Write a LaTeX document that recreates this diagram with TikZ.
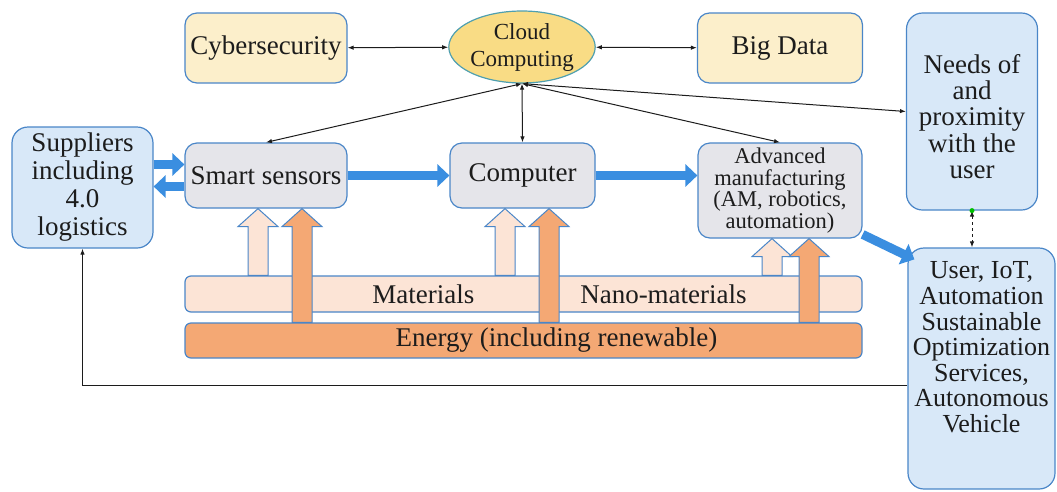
\documentclass[tikz,border=0pt]{standalone}
\usepackage{fontspec}
\setmainfont{Liberation Serif}
\usepackage{xcolor}
\usetikzlibrary{arrows.meta,positioning,shapes.geometric,calc}
\definecolor{boxline}{HTML}{4A86C8}
\definecolor{grayfill}{HTML}{E5E5EA}
\definecolor{creamfill}{HTML}{FCEFCB}
\definecolor{cloudfill}{HTML}{F9DC85}
\definecolor{cloudline}{HTML}{4E9FB0}
\definecolor{skyfill}{HTML}{D8E8F8}
\definecolor{peachfill}{HTML}{FCE4D6}
\definecolor{orangefill}{HTML}{F4A874}
\definecolor{flowblue}{HTML}{3A8EE0}
\definecolor{inkdark}{HTML}{1C1C1C}

% hollow upward block arrow: style, x, from anchor, to anchor
\newcommand{\liftarrow}[4]{%
  \draw[#1] (#3 -| #2-10,0) -- ($(#4 -| #2-10,0)+(0,18)$) -- ($(#4 -| #2-20,0)+(0,18)$)
    -- (#4 -| #2,0) -- ($(#4 -| #2+20,0)+(0,18)$) -- ($(#4 -| #2+10,0)+(0,18)$)
    -- (#3 -| #2+10,0) -- cycle;}

\begin{document}
\begin{tikzpicture}[
    x=1pt, y=-1pt,
    box/.style={rectangle, draw=boxline, line width=1.2pt, fill=grayfill, rounded corners=12pt, text=inkdark, align=center, inner sep=2pt, font=\fontsize{27}{26}\selectfont},
    softbox/.style={box, fill=creamfill},
    skybox/.style={box, fill=skyfill, rounded corners=16pt},
    cloudnode/.style={ellipse, draw=cloudline, line width=1.2pt, fill=cloudfill, text=inkdark, align=center, inner sep=0pt, font=\fontsize{23}{27}\selectfont},
    bar/.style={rectangle, draw=boxline, line width=1.2pt, rounded corners=6pt, text=inkdark, inner sep=0pt, font=\fontsize{27}{26}\selectfont},
    link/.style={{Latex[length=6pt,width=4.5pt]}-{Latex[length=6pt,width=4.5pt]}, line width=1pt, draw=inkdark},
    flow/.style={-{Triangle[length=12pt,width=22pt]}, line width=9pt, draw=flowblue},
    lightup/.style={fill=peachfill, draw=boxline, line width=1pt},
    orangeup/.style={fill=orangefill, draw=boxline, line width=1pt}
]
\useasboundingbox (0,0) rectangle (1057,491);

% Top row: data layer
\node[softbox, minimum width=162pt, minimum height=70pt] (cyber) at (266,48) {Cybersecurity};
\node[cloudnode, minimum width=135pt, minimum height=72pt] (cloud) at (522,47) {Cloud\\Computing};
\node[softbox, minimum width=165pt, minimum height=70pt] (bigdata) at (780,48) {Big Data};
\node[skybox, minimum width=131pt, minimum height=197pt] (needs) at (972,111.5) {%
  \begin{tabular}{@{}c@{}}\rule{0pt}{36pt}Needs of\\and\\proximity\\with the\\user\end{tabular}};

% Middle row: production chain
\node[skybox, minimum width=141pt, minimum height=121pt, font=\fontsize{27}{28}\selectfont] (sup) at (82.5,187.5) {Suppliers\\including\\4.0\\logistics};
\node[box, minimum width=162pt, minimum height=65pt] (sens) at (266,175.5) {Smart sensors};
\node[box, minimum width=145pt, minimum height=65pt] (comp) at (522.5,175.5) {Computer};
\node[box, minimum width=164pt, minimum height=95pt, font=\fontsize{22.5}{21.5}\selectfont] (adv) at (780,190.5) {Advanced\\manufacturing\\(AM, robotics,\\automation)};
\node[skybox, minimum width=147pt, minimum height=241pt, font=\fontsize{26}{25.5}\selectfont] (user) at (981.5,368.5) {%
  \begin{tabular}{@{}c@{}}User, IoT,\\Automation\\Sustainable\\Optimization\\Services,\\Autonomous\\Vehicle\\[36pt]\end{tabular}};

% Bottom bars
\node[bar, fill=peachfill, minimum width=677pt, minimum height=36pt] (mat) at (523.5,294) {\hspace*{72pt}Materials\hspace{106pt}Nano-materials};
\node[bar, fill=orangefill, minimum width=677pt, minimum height=35pt] (energy) at (523.5,340.5) {\hspace*{66pt}Energy (including renewable)};

% Supply arrows
\liftarrow{lightup}{258}{mat.north}{sens.south}
\liftarrow{orangeup}{302}{energy.north}{sens.south}
\liftarrow{lightup}{505}{mat.north}{comp.south}
\liftarrow{orangeup}{549}{energy.north}{comp.south}
\liftarrow{lightup}{772}{mat.north}{adv.south}
\liftarrow{orangeup}{809}{energy.north}{adv.south}

% Cloud links
\draw[link] (cyber) -- (cloud);
\draw[link] (cloud) -- (bigdata);
\draw[link] (cloud.south) -- (sens.north);
\draw[link] (cloud.south) -- (comp.north);
\draw[link] (cloud.south) -- (adv.north);
\draw[link] (cloud.south) -- (needs.west);
\draw[link, dashed] (needs.south) -- (needs.south |- user.north);
\fill[green!75!black] (needs.south) circle (2.5pt);

% Main flow
\draw[flow] ($(sup.east |- sens.west)+(0,-11)$) -- ($(sens.west)+(0,-11)$);
\draw[flow] ($(sens.west)+(0,11)$) -- ($(sup.east |- sens.west)+(0,11)$);
\draw[flow] (sens) -- (comp);
\draw[flow] (comp.east) -- (comp.east -| adv.west);
\draw[flow] (adv.-28) -- ($(user.north west)+(7,12)$);

% Feedback to suppliers
\coordinate (fb) at (0,385);
\draw[-{Latex[length=6pt,width=4.5pt]}, line width=1pt, draw=inkdark] (user.west |- fb) -| (sup.south);

\end{tikzpicture}
\end{document}
